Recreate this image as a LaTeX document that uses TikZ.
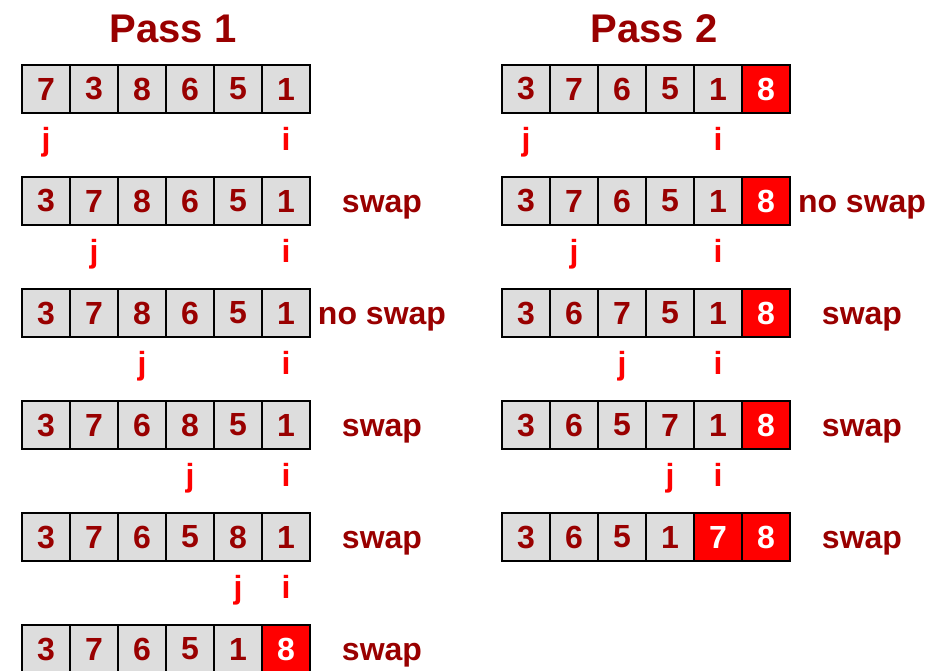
\documentclass[tikz,border=0pt]{standalone}
\usepackage{fontspec}
\setmainfont{Liberation Sans}
\usepackage{tikz}
\usetikzlibrary{calc,positioning}
\definecolor{darkred}{HTML}{990000}
\definecolor{hot}{HTML}{FF0000}
\definecolor{cellgray}{HTML}{DDDDDD}
\begin{document}
\begin{tikzpicture}[x=1pt,y=-1pt,
  cell/.style={draw=black,line width=1.8pt,fill=cellgray,minimum size=48pt,inner sep=0pt,text=darkred,font=\fontsize{32}{38}\selectfont\bfseries},
  sorted/.style={cell,fill=hot,text=white},
  ptr/.style={anchor=base,text=hot,font=\fontsize{32}{38}\selectfont\bfseries},
  note/.style={anchor=base,text=darkred,font=\fontsize{32}{38}\selectfont\bfseries},
  title/.style={anchor=base,text=darkred,font=\fontsize{40}{48}\selectfont\bfseries}]
\useasboundingbox (0,0) rectangle (931,670);
\node[title] (t1) at (173,42) {Pass 1};
\node[title] (t2) at (654,42) {Pass 2};
% pass 1
\foreach \r/\vals/\d in {0/{7,3,8,6,5,1}/6,1/{3,7,8,6,5,1}/6,2/{3,7,8,6,5,1}/6,3/{3,7,6,8,5,1}/6,4/{3,7,6,5,8,1}/6,5/{3,7,6,5,1,8}/5}{
  \foreach \v [count=\k from 0] in \vals {
    \ifnum\k<\d \node[cell] (a-\r-\k) at (46+48*\k,89+112*\r) {\v};
    \else \node[sorted] (a-\r-\k) at (46+48*\k,89+112*\r) {\v}; \fi
  }
}
\foreach \r/\j/\i in {0/0/5,1/1/5,2/2/5,3/3/5,4/4/5}{
  \path (a-\r-\j.center) ++(0,61) node[ptr] (j-a-\r) {j};
  \path (a-\r-\i.center) ++(0,61) node[ptr] (i-a-\r) {i};
}
\foreach \r/\t in {1/swap,2/no swap,3/swap,4/swap,5/swap}
  \node[note] (n-a-\r) at (382,100+112*\r) {\t};
% pass 2
\foreach \r/\vals/\d in {0/{3,7,6,5,1,8}/5,1/{3,7,6,5,1,8}/5,2/{3,6,7,5,1,8}/5,3/{3,6,5,7,1,8}/5,4/{3,6,5,1,7,8}/4}{
  \foreach \v [count=\k from 0] in \vals {
    \ifnum\k<\d \node[cell] (b-\r-\k) at (526+48*\k,89+112*\r) {\v};
    \else \node[sorted] (b-\r-\k) at (526+48*\k,89+112*\r) {\v}; \fi
  }
}
\foreach \r/\j/\i in {0/0/4,1/1/4,2/2/4,3/3/4}{
  \path (b-\r-\j.center) ++(0,61) node[ptr] (j-b-\r) {j};
  \path (b-\r-\i.center) ++(0,61) node[ptr] (i-b-\r) {i};
}
\foreach \r/\t in {1/no swap,2/swap,3/swap,4/swap}
  \node[note] (n-b-\r) at (862,100+112*\r) {\t};
\end{tikzpicture}
\end{document}
